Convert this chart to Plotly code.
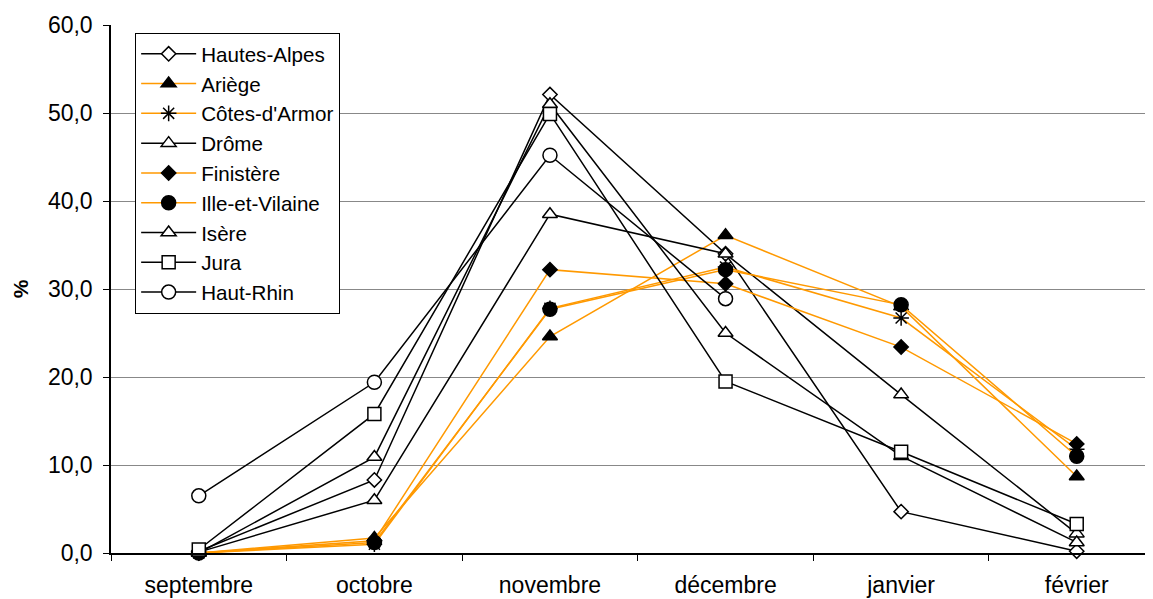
import plotly.graph_objects as go

months = ["septembre", "octobre", "novembre", "décembre", "janvier", "février"]

hautes_alpes = [0.2, 8.3, 52.1, 34.0, 4.7, 0.2]
ariege = [0.0, 1.7, 24.6, 36.1, 28.0, 8.7]
cotes_armor = [0.0, 1.0, 27.8, 32.5, 26.7, 11.8]
drome = [0.1, 6.0, 38.5, 34.0, 18.0, 2.2]
finistere = [0.0, 1.4, 32.2, 30.6, 23.4, 12.4]
ille_vilaine = [0.0, 1.2, 27.7, 32.2, 28.2, 11.0]
isere = [0.0, 10.9, 51.0, 25.0, 11.0, 1.2]
jura = [0.4, 15.8, 49.9, 19.5, 11.5, 3.3]
haut_rhin = [6.5, 19.4, 45.2, 28.9, None, None]

ORANGE = "#FF9900"
BLACK = "#000000"

series = [
    ("Hautes-Alpes", hautes_alpes, BLACK, "diamond", "white", 11),
    ("Ariège", ariege, ORANGE, "triangle-up", BLACK, 13),
    ("Côtes-d'Armor", cotes_armor, ORANGE, "asterisk-open", BLACK, 13),
    ("Drôme", drome, BLACK, "triangle-up", "white", 13),
    ("Finistère", finistere, ORANGE, "diamond", BLACK, 11),
    ("Ille-et-Vilaine", ille_vilaine, ORANGE, "circle", BLACK, 14),
    ("Isère", isere, BLACK, "triangle-up", "white", 13),
    ("Jura", jura, BLACK, "square", "white", 13),
    ("Haut-Rhin", haut_rhin, BLACK, "circle", "white", 14),
]

fig = go.Figure()
for name, vals, lc, sym, fill, size in series:
    fig.add_trace(go.Scatter(
        x=months, y=vals, name=name, mode="lines+markers",
        line=dict(color=lc, width=1.5),
        marker=dict(symbol=sym, size=size, color=fill,
                    line=dict(color=BLACK, width=1.5)),
        cliponaxis=False,
    ))

FONT = "Liberation Sans, Arial, sans-serif"

fig.update_layout(
    width=1153, height=599,
    margin=dict(l=103, r=0, t=17, b=54, autoexpand=False),
    paper_bgcolor="white", plot_bgcolor="white",
    separators=", ",
    font=dict(family=FONT, size=22, color="black"),
    showlegend=True,
    legend=dict(
        x=0.023, y=0.985, xanchor="left", yanchor="top",
        bgcolor="white", bordercolor="black", borderwidth=1,
        font=dict(family=FONT, size=20.6, color="black"),
        itemwidth=55,
    ),
    xaxis=dict(
        type="category", range=[-0.5, 5.48],
        showline=True, linecolor="black", linewidth=1.5,
        ticks="outside", ticklen=6, tickcolor="black", tickson="boundaries",
        showgrid=False, automargin=False,
        tickfont=dict(family=FONT, size=23),
        ticklabelstandoff=11,
    ),
    yaxis=dict(
        range=[0, 60], dtick=10, tickformat=".1f",
        showline=True, linecolor="black", linewidth=1.5,
        ticks="outside", ticklen=6, tickcolor="black",
        showgrid=True, gridcolor="#888888", gridwidth=1,
        zeroline=False, automargin=False,
        tickfont=dict(family=FONT, size=23),
        ticklabelstandoff=6,
        title=dict(text="<b>%</b>", font=dict(family=FONT, size=21), standoff=14),
    ),
)

fig.write_html("out.html")
